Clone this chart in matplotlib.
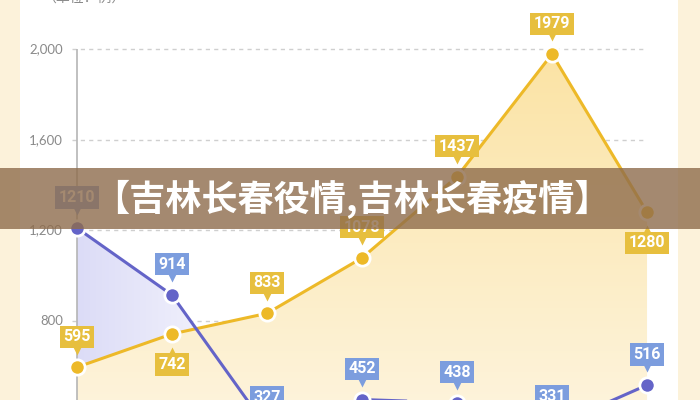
import matplotlib
matplotlib.use("Agg")
import matplotlib.pyplot as plt
import matplotlib.transforms as mtransforms
from matplotlib.colors import LinearSegmentedColormap
from matplotlib.patches import Rectangle
import numpy as np

# data
days = list(range(7))
orange_vals = [595, 742, 833, 1078, 1437, 1979, 1280]
blue_vals = [1210, 914, 327, 452, 438, 331, 516]
orange_below = [False, True, False, False, False, False, True]
yticks = [800, 1200, 1600, 2000]
ytick_labels = ["800", "1,200", "1,600", "2,000"]
unit_label = "（单位：例）"
banner_text = "【吉林长春役情,吉林长春疫情】"

ORANGE = "#EDB928"
ORANGE_BOX = "#E7BF3E"
BLUE = "#6464C8"
BLUE_BOX = "#7C9DDE"
GRAY = "#8A8A8A"

plt.rcParams["font.family"] = ["Noto Sans CJK SC", "DejaVu Sans"]

fig = plt.figure(figsize=(7, 4), dpi=100, facecolor="#FCF2DA")
ax = fig.add_axes([20 / 700, 0, 658 / 700, 1])
ax.set_facecolor("white")
for s in ax.spines.values():
    s.set_visible(False)
ax.set_xticks([])
ax.set_yticks([])

# grid + axis line
ax.hlines(yticks, -0.05, 5.96, colors="#CFCFCF", linestyles=(0, (3, 3)), lw=1, zorder=1)
ax.vlines(0, 450, 2000, colors="#B5B5B5", lw=1.2, zorder=5)
for v, lab in zip(yticks, ytick_labels):
    ax.text(-0.15, v, lab, ha="right", va="center", fontsize=9.5,
            color=GRAY, family=["Lato", "DejaVu Sans"])

xs = np.array(days)

# blue area, fading to the right
poly_b = ax.fill_between(xs, blue_vals, 0, color="none", lw=0, zorder=2)
gradb = np.linspace(0, 1, 256).reshape(1, -1)
cmap_b = LinearSegmentedColormap.from_list("bg", ["#DCDCF7", "#FFFFFF"])
img_b = ax.imshow(gradb, extent=(0, 2.3, 0, 2000), origin="lower", cmap=cmap_b,
                  aspect="auto", zorder=2)
img_b.set_clip_path(poly_b.get_paths()[0], transform=ax.transData)

# orange area with soft vertical gradient
poly = ax.fill_between(xs, orange_vals, 0, color="none", lw=0, zorder=3)
grad = np.linspace(0, 1, 256).reshape(-1, 1)
cmap = LinearSegmentedColormap.from_list("og", ["#FEF8EA", "#FBE3A4"])
img = ax.imshow(grad, extent=(0, 6, 0, 2000), origin="lower", cmap=cmap,
                aspect="auto", zorder=3)
img.set_clip_path(poly.get_paths()[0], transform=ax.transData)

ax.plot(xs, orange_vals, color=ORANGE, lw=2.2, zorder=4)
ax.plot(xs, blue_vals, color=BLUE, lw=2.2, zorder=4)
ax.plot(xs, orange_vals, "o", ms=11, mfc=ORANGE, mec="white", mew=2, zorder=6)
ax.plot(xs, blue_vals, "o", ms=11, mfc=BLUE, mec="white", mew=2, zorder=6)

ax.set_xlim(-0.6, 6.326)
ax.set_ylim(450, 2218)


def tag(x, y, text, color, below=False):
    off = -22 if below else 22
    tr = mtransforms.offset_copy(ax.transData, fig=fig, x=0, y=off, units="points")
    ax.text(x, y, text, transform=tr, ha="center", va="center", color="white",
            fontsize=11.5, fontweight="bold", family=["Roboto", "DejaVu Sans"],
            bbox=dict(boxstyle="square,pad=0.22", fc=color, ec="none"),
            zorder=7, clip_on=False)
    ptr_off = -12 if below else 12
    tr2 = mtransforms.offset_copy(ax.transData, fig=fig, x=0, y=ptr_off, units="points")
    ax.plot(x, y, "^" if below else "v", ms=6, color=color, mec="none",
            transform=tr2, zorder=7, clip_on=False)


for x, v, b in zip(days, orange_vals, orange_below):
    tag(x, v, str(v), ORANGE_BOX, below=b)
for x, v in zip(days, blue_vals):
    tag(x, v, str(v), BLUE_BOX)

# unit label at the top (mostly cropped)
fig.text(42 / 700, 1.005, unit_label, ha="left", va="center", fontsize=10, color=GRAY)

# banner
fig.add_artist(Rectangle((0, (400 - 229) / 400), 1, 61 / 400,
                         transform=fig.transFigure, fc="#8E6C4C", alpha=0.8,
                         ec="none", zorder=10))
fig.text(352 / 700, (400 - 199) / 400, banner_text, ha="center", va="center",
         color="white", fontsize=26, fontweight="heavy", zorder=11,
         family=["Noto Sans CJK SC", "DejaVu Sans"])

fig.savefig("out.png", dpi=100, facecolor=fig.get_facecolor())
